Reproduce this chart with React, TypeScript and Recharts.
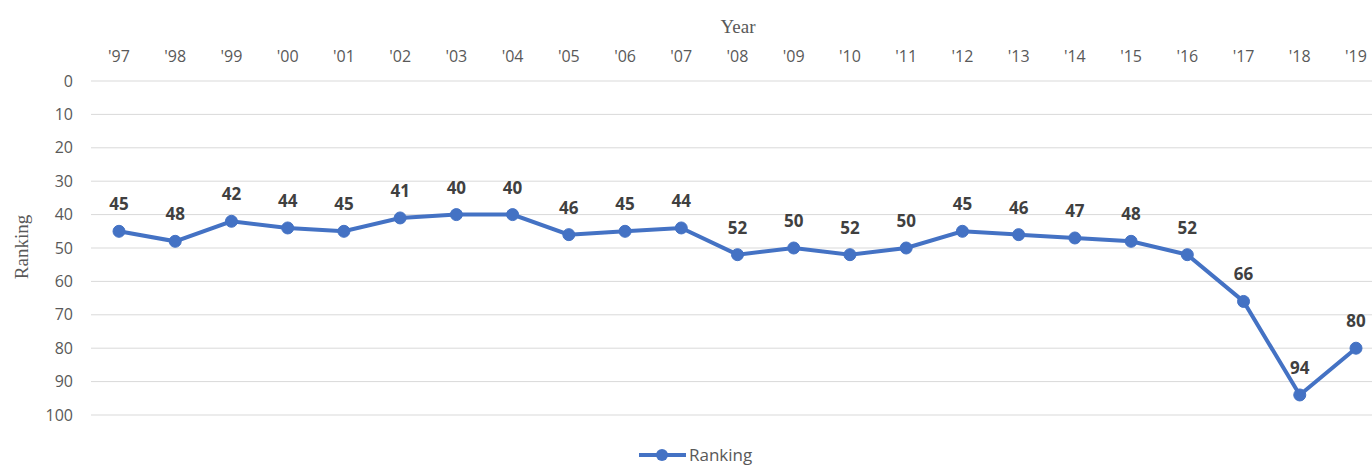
import { LineChart, Line, XAxis, YAxis, CartesianGrid, Legend, LabelList } from "recharts"

const years = ["'97", "'98", "'99", "'00", "'01", "'02", "'03", "'04", "'05", "'06", "'07", "'08", "'09", "'10", "'11", "'12", "'13", "'14", "'15", "'16", "'17", "'18", "'19"]
const ranking = [45, 48, 42, 44, 45, 41, 40, 40, 46, 45, 44, 52, 50, 52, 50, 45, 46, 47, 48, 52, 66, 94, 80]
const yTicks = [0, 10, 20, 30, 40, 50, 60, 70, 80, 90, 100]

const data = years.map((year, i) => ({ year, ranking: ranking[i] }))

const tickFont = "'Open Sans', 'Liberation Sans', sans-serif"
const serif = "'Liberation Serif', 'DejaVu Serif', serif"

const XTick = ({ x, payload }: any) => (
  <text x={x} y={62} textAnchor="middle" fill="#595959" fontSize={16} fontFamily={tickFont}>
    {payload.value}
  </text>
)

const YTick = ({ y, payload }: any) => (
  <text x={73} y={y} dy="0.35em" textAnchor="end" fill="#595959" fontSize={16} fontFamily={tickFont}>
    {payload.value}
  </text>
)

const PointLabel = ({ x, y, value }: any) => (
  <text x={x} y={y - 21} textAnchor="middle" fill="#404040" fontSize={17} fontWeight="bold" fontFamily={tickFont}>
    {value}
  </text>
)

const LegendBox = () => (
  <svg width={1372} height={22} style={{ display: "block" }}>
    <line x1={639} x2={686} y1={11} y2={11} stroke="#4472C4" strokeWidth={4} />
    <circle cx={662} cy={11} r={6} fill="#4472C4" />
    <text x={689} y={11} dy="0.35em" fill="#595959" fontSize={17} fontFamily={tickFont}>
      Ranking
    </text>
  </svg>
)

export default function App() {
  return (
    <div style={{ position: "fixed", left: 0, top: 0, width: 1372, height: 466, overflow: "hidden", background: "#fff" }}>
      <LineChart width={1400} height={466} data={data} margin={{ top: 41, right: 16, bottom: 29, left: 0 }}>
        <CartesianGrid vertical={false} stroke="#d9d9d9" strokeWidth={1} />
        <XAxis
          dataKey="year"
          orientation="top"
          height={40}
          axisLine={false}
          tickLine={false}
          tick={<XTick />}
          interval={0}
          padding={{ left: 28, right: 28 }}
        />
        <YAxis
          domain={[0, 100]}
          reversed
          ticks={yTicks}
          width={91}
          axisLine={false}
          tickLine={false}
          tick={<YTick />}
        />
        <Legend verticalAlign="bottom" content={<LegendBox />} wrapperStyle={{ left: 0, top: 444, bottom: "auto", width: 1372 }} />
        <Line
          dataKey="ranking"
          stroke="#4472C4"
          strokeWidth={4}
          dot={{ r: 6, fill: "#4472C4", stroke: "#4472C4", strokeWidth: 1 }}
          isAnimationActive={false}
        >
          <LabelList dataKey="ranking" content={<PointLabel />} />
        </Line>
        <text x={738} y={33} textAnchor="middle" fill="#595959" fontSize={19} fontFamily={serif}>
          Year
        </text>
        <text x={28} y={247} transform="rotate(-90 28 247)" textAnchor="middle" fill="#595959" fontSize={19} fontFamily={serif}>
          Ranking
        </text>
      </LineChart>
    </div>
  )
}
